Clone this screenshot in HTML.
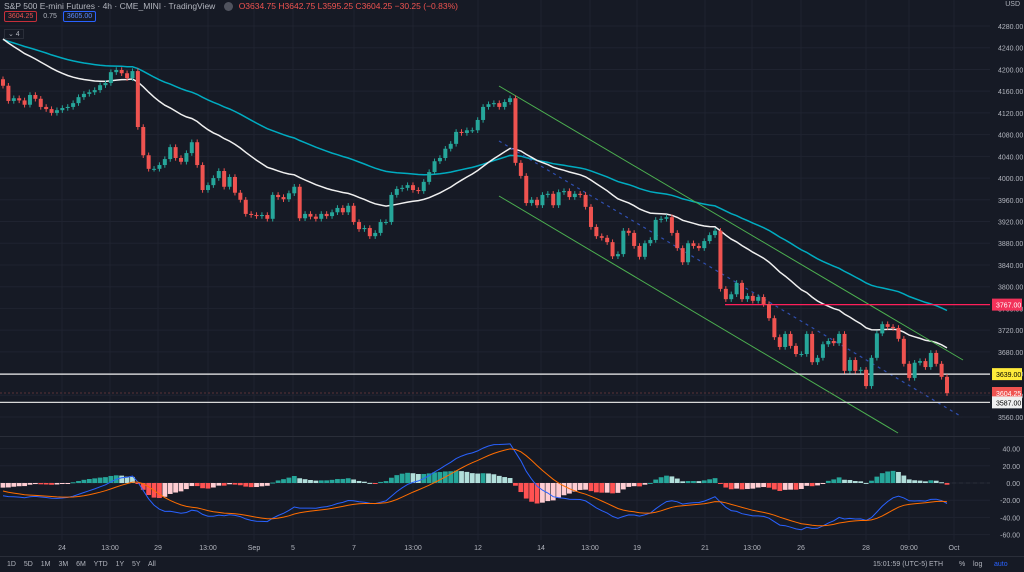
<!DOCTYPE html>
<html><head><meta charset="utf-8"><style>
html,body{margin:0;padding:0;background:#161a25;width:1024px;height:571px;overflow:hidden;font-family:"Liberation Sans",sans-serif}
svg{display:block}
</style></head><body>
<svg id="c" width="1024" height="571" viewBox="0 0 1024 571" font-family="Liberation Sans, sans-serif">
<rect x="0" y="0" width="1024" height="571" fill="#161a25"/>
<g id="grid"></g>
<g id="price"></g>
<g id="macd"></g>
<g id="axes"></g>
</svg>
<script>
const closes=[4170,4142,4147,4143,4135,4153,4146,4131,4127,4120,4125,4129,4131,4138,4149,4155,4158,4162,4171,4175,4195,4199,4193,4184,4197,4094,4042,4017,4017,4024,4035,4057,4037,4030,4046,4066,4024,3978,3987,4000,4013,3984,4002,3973,3960,3934,
3932,3930,3932,3925,3969,3965,3961,3972,3984,3926,3934,3929,3925,3934,3930,3937,3945,3937,3949,3919,3906,3908,3893,3899,3919,3919,3969,3980,3982,3987,3978,3976,3993,4011,4031,4037,4054,4063,4085,4083,4088,4088,4107,4131,4136,4138,4131,4140,4147,4028,
4004,3954,3960,3950,3969,3971,3950,3974,3976,3965,3971,3969,3947,3910,3893,
3890,3882,3856,3860,3903,3899,3875,3855,3880,3886,3923,3925,3928,3899,3871,3845,3880,3875,3871,
3884,3895,3903,3796,3777,3786,3807,3777,3783,3774,3781,3768,3742,3707,3689,3713,3691,3676,3676,3713,3661,3669,3694,3700,3696,3713,3645,3665,3645,3647,3617,3669,3714,3731,3726,3724,3704,3658,3632,3660,3663,3652,3678,3658,3634,3604];
const firstOpen=4182;
const priceTicks=[4280,4240,4200,4160,4120,4080,4040,4000,3960,3920,3880,3840,3800,3760,3720,3680,3640,3600,3560];
const macdTicks=[40,20,0,-20,-40,-60];
const timeLabels=["24","13:00","29","13:00","Sep","5","7","13:00","12","14","13:00","19","21","13:00","26","28","09:00","Oct"];
const timeLabelX=[62,110,158,208,254,293,354,413,478,541,590,637,705,752,801,866,909,954];
const levels=[3767,3639,3604.25,3587];

const NS="http://www.w3.org/2000/svg";
function el(t,a,p){const e=document.createElementNS(NS,t);for(const k in a)e.setAttribute(k,a[k]);p.appendChild(e);return e;}
const N=closes.length;
const X=i=>3+i*(944/(N-1));
const Y=p=>26+(4280-p)*0.5431;
const MY=v=>483-v*0.86;
const grid=document.getElementById('grid'),price=document.getElementById('price'),macd=document.getElementById('macd'),axes=document.getElementById('axes');

priceTicks.forEach(t=>{const l=el('line',{x1:0,x2:990,y1:Y(t),y2:Y(t),stroke:'#1f2330','stroke-width':1},grid);

});
timeLabelX.forEach(x=>{const l=el('line',{x1:x,x2:x,y1:0,y2:540,stroke:'#1f2330','stroke-width':1},grid);

});
macdTicks.forEach(t=>{const l=el('line',{x1:0,x2:990,y1:MY(t),y2:MY(t),stroke:'#1f2330','stroke-width':1},grid);

});
let sep=el('line',{x1:0,x2:1024,y1:436.5,y2:436.5,stroke:'#2a2e39','stroke-width':1},grid);



function ema(arr,n,seed){const a=2/(n+1);let v=seed;return arr.map(c=>v=v+a*(c-v));}
const ma20=ema(closes,30,4262), ma50=ema(closes,65,4258);
function poly(vals,fy,color,w,name,parent){const pts=vals.map((v,i)=>X(i).toFixed(1)+','+fy(v).toFixed(1)).join(' ');
const p=el('polyline',{points:pts,fill:'none',stroke:color,'stroke-width':w},parent);

}
poly(ma50,Y,'#00acc1',1.5,'ma-slow-line',price);
poly(ma20,Y,'#f0f0f0',1.5,'ma-fast-line',price);

[[499,86,963,360,'#4caf50','channel-upper'],[499,196,898,433,'#4caf50','channel-lower']].forEach(c=>{
const l=el('line',{x1:c[0],y1:c[1],x2:c[2],y2:c[3],stroke:c[4],'stroke-width':1},price);

});
let mid=el('line',{x1:499,y1:141,x2:962,y2:417,stroke:'#2f4fb0','stroke-width':1.2,'stroke-dasharray':'3,4'},price);



let h1=el('line',{x1:725,x2:990,y1:Y(levels[0]),y2:Y(levels[0]),stroke:'#ff1f5a','stroke-width':1.2},price);


let h2=el('line',{x1:0,x2:990,y1:Y(levels[1]),y2:Y(levels[1]),stroke:'#f0f0f0','stroke-width':1.2},price);


let h3=el('line',{x1:0,x2:990,y1:Y(levels[2]),y2:Y(levels[2]),stroke:'#5a3138','stroke-width':1,'stroke-dasharray':'2,2'},price);


let h4=el('line',{x1:0,x2:990,y1:Y(levels[3]),y2:Y(levels[3]),stroke:'#d8d8d8','stroke-width':1.2},price);



let prev=firstOpen;
closes.forEach((c,i)=>{const o=prev;prev=c;const up=c>=o;const col=up?'#26a69a':'#ef5350';
const hi=Math.max(o,c)+5,lo=Math.min(o,c)-5;const x=X(i);
const w=el('line',{x1:x,x2:x,y1:Y(hi),y2:Y(lo),stroke:col,'stroke-width':1},price);


const top=Y(Math.max(o,c)),h=Math.max(1,Math.abs(Y(o)-Y(c)));
const b=el('rect',{x:x-2,y:top,width:4,height:h,fill:col},price);

});

const e12=ema(closes,12,4169),e26=ema(closes,26,4185);
const macdLine=e12.map((v,i)=>v-e26[i]);
const sig=ema(macdLine,9,-8);
const hist=macdLine.map((v,i)=>v-sig[i]);
let z=el('line',{x1:0,x2:990,y1:MY(0),y2:MY(0),stroke:'#2a2e39','stroke-width':1,'stroke-dasharray':'4,3'},macd);


hist.forEach((h,i)=>{const p=i?hist[i-1]:h;let col;
if(h>=0)col=h>=p?'#26a69a':'#b2dfdb';else col=h<p?'#ff5252':'#ffcdd2';
const y=Math.min(MY(h),MY(0)),hh=Math.max(1,Math.abs(MY(h)-MY(0)));
const r=el('rect',{x:X(i)-2.4,y:y,width:4.8,height:hh,fill:col},macd);

});
poly(macdLine,MY,'#2962ff',1,'macd-line',macd);
poly(sig,MY,'#ff6d00',1,'signal-line',macd);

function txt(x,y,s,fill,size,anchor,name,parent){const t=el('text',{x:x,y:y,fill:fill,'font-size':size,'text-anchor':anchor||'start'},parent||axes);t.textContent=s;

return t;}
priceTicks.forEach(t=>txt(998,Y(t)+3,t.toFixed(2),'#b2b5be',7,'start','price-tick-label'));
macdTicks.forEach(t=>txt(1020,MY(t)+3,t.toFixed(2),'#b2b5be',7,'end','macd-tick-label'));
txt(1020,6,'USD','#b2b5be',7,'end','currency-label');
[[levels[0],'#f2325a','#fff'],[levels[1],'#ffeb3b','#000'],[levels[2],'#ef5350','#fff'],[levels[3],'#f0f0f0','#000']].forEach(l=>{
const r=el('rect',{x:992,y:Y(l[0])-6,width:30,height:12,fill:l[1]},axes);


txt(996,Y(l[0])+3,l[0].toFixed(2),l[2],7,'start','price-level-tag-text');});
timeLabels.forEach((s,i)=>txt(timeLabelX[i],550,s,'#b2b5be',7,'middle','time-axis-label'));
</script>
<div style="position:absolute;left:4px;top:1px;font-size:8.5px;color:#b2b5be;white-space:nowrap">S&amp;P 500 E-mini Futures · 4h · CME_MINI · TradingView <span style="display:inline-block;width:9px;height:9px;border-radius:5px;background:#50535e;vertical-align:middle;margin:0 6px"></span><span style="color:#ef5350">O3634.75 H3642.75 L3595.25 C3604.25 −30.25 (−0.83%)</span></div>
<div style="position:absolute;left:4px;top:13px;font-size:7px;white-space:nowrap"><span style="border:1px solid #c62f3a;color:#ef5350;padding:1px 3px;border-radius:2px">3604.25</span> <span style="color:#b2b5be;margin:0 4px">0.75</span> <span style="border:1px solid #2962ff;color:#5b8cff;padding:1px 3px;border-radius:2px">3605.00</span></div>
<div style="position:absolute;left:4px;top:29px;font-size:7px;color:#b2b5be;border:1px solid #2a2e39;padding:0 3px">⌄ 4</div>
<div style="position:absolute;left:0;top:556px;width:1024px;height:15px;border-top:1px solid #2a2e39;font-size:7px;color:#b2b5be">
<span style="position:absolute;left:7px;top:4px;word-spacing:6px">1D 5D 1M 3M 6M YTD 1Y 5Y All</span>
<span style="position:absolute;left:873px;top:4px">15:01:59 (UTC-5)</span>
<span style="position:absolute;left:929px;top:4px">ETH</span>
<span style="position:absolute;left:959px;top:4px">%</span>
<span style="position:absolute;left:973px;top:4px">log</span>
<span style="position:absolute;left:994px;top:4px;color:#2962ff">auto</span>
</div>
</body></html>
